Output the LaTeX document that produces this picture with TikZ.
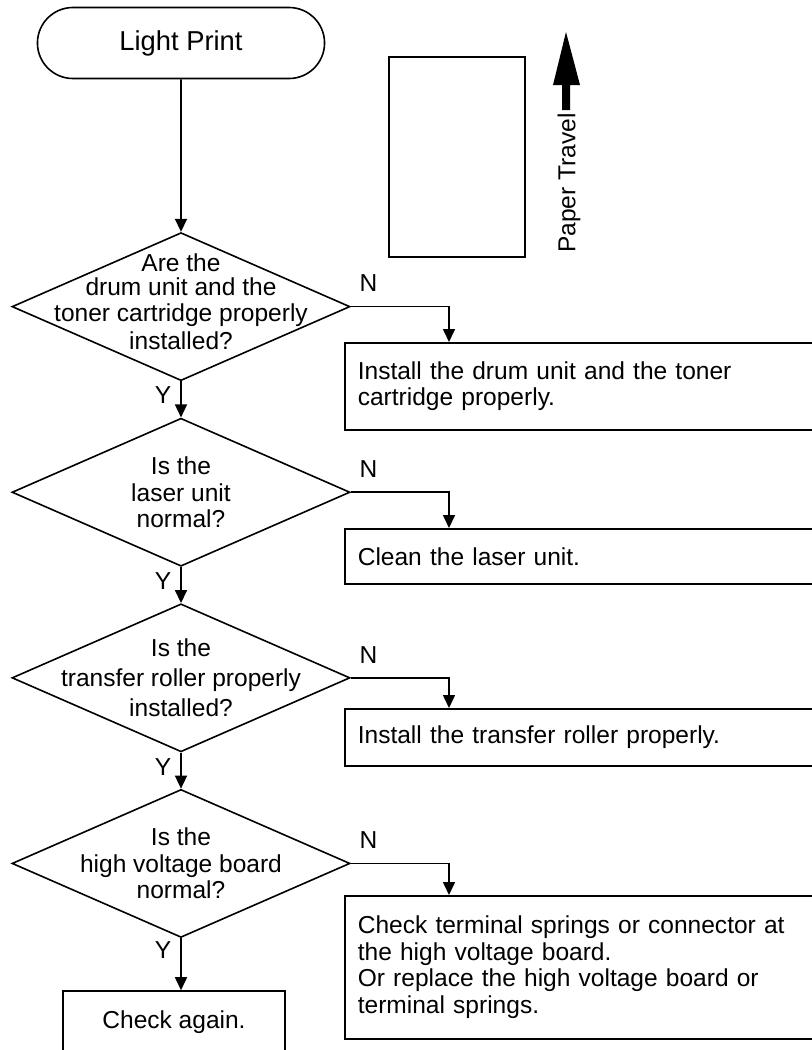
\documentclass[tikz,border=0pt]{standalone}
\usepackage{fontspec}
\setmainfont{Liberation Sans}
\usetikzlibrary{arrows.meta,positioning,shapes.geometric,shapes.misc}
\tikzset{
  % --- Light print flowchart ------------------------------------------------
  termnode/.style={
    rounded rectangle, draw, line width=1.2pt,
    minimum width=222pt, minimum height=53.25pt,
    font=\fontsize{20.5}{24}\selectfont
  },
  decision/.style={
    diamond, draw, line width=1.2pt, inner sep=0pt,
    minimum width=253.5pt, minimum height=111pt
  },
  asktext/.style={align=center, inner sep=0pt, font=\fontsize{18.4}{20}\selectfont},
  actbox/.style={
    rectangle, draw, line width=1.2pt, anchor=north west,
    align=left, text width=352pt, inner xsep=9.75pt,
    font=\fontsize{18.4}{20}\selectfont
  },
  endbox/.style={
    rectangle, draw, line width=1.2pt, align=center,
    minimum width=166.5pt, inner ysep=0pt,
    text height=28pt, text depth=60pt,
    font=\fontsize{18.4}{20}\selectfont
  },
  sheet/.style={draw, line width=1.2pt, inner sep=0pt, minimum width=102pt, minimum height=150pt},
  ylab/.style={inner sep=0pt, font=\fontsize{18.4}{20}\selectfont, left=6.75pt},
  nlab/.style={inner sep=0pt, font=\fontsize{18.4}{20}\selectfont, above=10.5pt},
  flowarrow/.style={-{Triangle[width=9pt,length=9.75pt]}, line width=1.2pt},
}
\begin{document}
\begin{tikzpicture}[x=0.75pt, y=-0.75pt]
  \useasboundingbox (0,0) rectangle (812,1050);
  \clip (0,0) rectangle (812,1050);

  % paper and direction of travel
  \node[sheet] (paper) at (457,157) {};
  \fill (562,110) -- (562,85) -- (553,85) -- (566,32) -- (580,85) -- (570,85) -- (570,110) -- cycle;
  \node[rotate=90, inner sep=0pt, font=\fontsize{18.4}{20}\selectfont] (travel) at (569,183) {Paper Travel};

  % main column
  \node[termnode] (start) at (181,43) {Light Print};
  \node[decision, below=114.4pt of start,
    label={[asktext, yshift=4pt]center:Are the\\[-1.5pt]drum unit and the\\[-1pt]toner cartridge properly\\[1pt]installed?}] (q1) {};
  \node[decision, below=27pt of q1,
    label={[asktext]center:Is the\\laser unit\\normal?}] (q2) {};
  \node[decision, below=27pt of q2,
    label={[asktext]center:Is the\\[2.25pt]transfer roller properly\\[2.25pt]installed?}] (q3) {};
  \node[decision, below=27pt of q3,
    label={[asktext]center:Is the\\high voltage board\\normal?}] (q4) {};
  \node[endbox, below=39pt of q4, xshift=-5.25pt] (done) {Check again.};

  % remedies
  \node[actbox, minimum height=65.25pt] (fix1) at (344,342) {Install the drum unit and the toner\\cartridge properly.};
  \node[actbox, minimum height=41.25pt] (fix2) at (344,528) {Clean the laser unit.};
  \node[actbox, minimum height=42.75pt] (fix3) at (344,708) {Install the transfer roller properly.};
  \node[actbox, minimum height=107.25pt] (fix4) at (344,895) {Check terminal springs or connector at\\the high voltage board.\\Or replace the high voltage board or\\terminal springs.};

  \draw[flowarrow] (start) -- (q1);
  \draw[flowarrow] (q1) -- node[ylab, pos=0.38]{Y} (q2);
  \draw[flowarrow] (q2) -- node[ylab, pos=0.38]{Y} (q3);
  \draw[flowarrow] (q3) -- node[ylab, pos=0.4]{Y} (q4);
  \draw[flowarrow] (q4.south) -- node[ylab, pos=0.22]{Y} (q4.south |- done.north);

  \draw[flowarrow] (q1.east) -| node[nlab, pos=0.09]{N} ([xshift=78.75pt]fix1.north west);
  \draw[flowarrow] (q2.east) -| node[nlab, pos=0.09]{N} ([xshift=78.75pt]fix2.north west);
  \draw[flowarrow] (q3.east) -| node[nlab, pos=0.09]{N} ([xshift=78.75pt]fix3.north west);
  \draw[flowarrow] (q4.east) -| node[nlab, pos=0.09]{N} ([xshift=78.75pt]fix4.north west);
\end{tikzpicture}
\end{document}
